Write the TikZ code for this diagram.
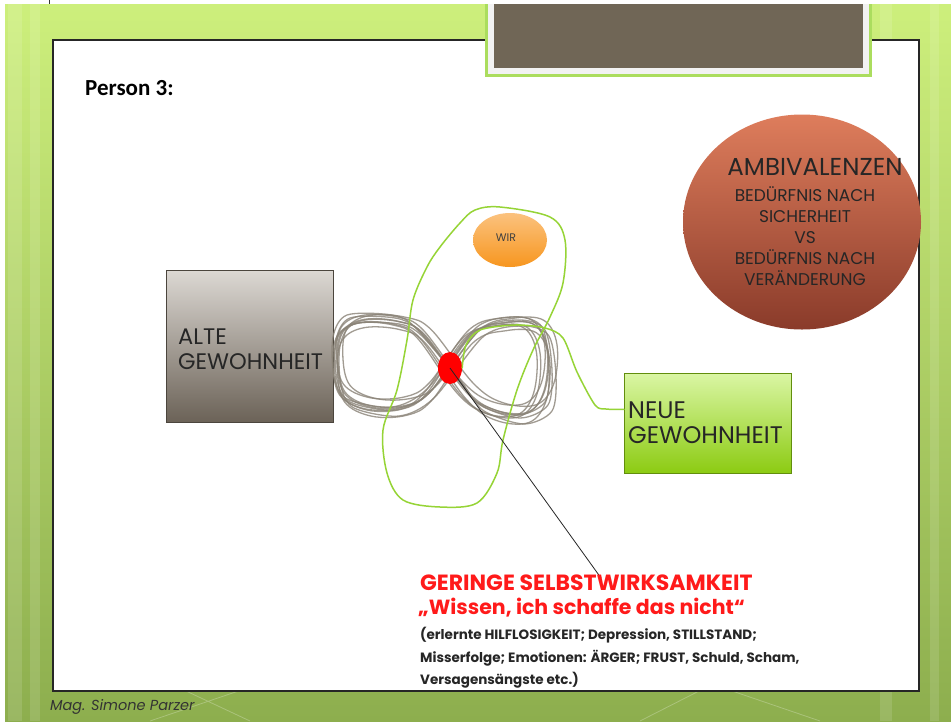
\documentclass[tikz,border=0pt]{standalone}
\usepackage{fontspec}
\setmainfont{Carlito}
\newfontfamily\gothic{Poppins}
\usetikzlibrary{shapes.geometric}
\definecolor{bgtop}{HTML}{CDEF7C}
\definecolor{bgbot}{HTML}{8DAE4E}
\definecolor{brownbox}{HTML}{706656}
\definecolor{ambtop}{HTML}{DE7D5C}
\definecolor{ambbot}{HTML}{8A3B2A}
\definecolor{altetop}{HTML}{DCD8D3}
\definecolor{altebot}{HTML}{6B6257}
\definecolor{neuetop}{HTML}{DAF6A4}
\definecolor{neuebot}{HTML}{8CCB12}
\definecolor{wirtop}{HTML}{FBC27E}
\definecolor{wirbot}{HTML}{F7961F}
\definecolor{scrib}{HTML}{8A8377}
\definecolor{loopgreen}{HTML}{96D436}
\definecolor{redtext}{HTML}{FF1A1A}
\tikzset{
  habitbox/.style={draw=#1!70!black, line width=0.8pt, minimum width=167pt, anchor=north west, inner sep=0pt},
  capslabel/.style={font=\gothic\fontsize{#1}{25}\selectfont, align=left, anchor=west, text=black!85},
  scribble/.style={draw=scrib, line width=1.3pt, opacity=0.8},
  greenline/.style={draw=loopgreen, line width=1.5pt, line join=round, line cap=round},
}
\begin{document}
\begin{tikzpicture}[x=1pt,y=-1pt]
\useasboundingbox (0,0) rectangle (951,721);
% background
\fill[white] (0,0) rectangle (951,721);
\shade[top color=bgtop, bottom color=bgbot] (5,4) rectangle (951,721);
\foreach \x/\w in {8/14, 30/10, 880/12, 930/9} \fill[white, opacity=0.12] (\x,4) rectangle ({\x+\w},721);
\draw[white, opacity=0.25, line width=0.8pt] (150,721) -- (330,660) (250,721) -- (120,660) (640,721) -- (760,660) (820,721) -- (700,680);
\draw[black!80, line width=0.8pt] (49,0) -- (49,4);
% slide panel
\draw[fill=white, draw=black!85, line width=1.6pt] (53,40) rectangle (919,691);
% top title box
\fill[loopgreen!80!white] (485,4) rectangle (872,77);
\fill[black!5] (488,4) rectangle (869,74);
\fill[brownbox] (494,4) rectangle (863,68);
\node[font=\bfseries\fontsize{23}{25}\selectfont, anchor=west, inner sep=0pt] (person) at (85,88) {Person 3:};
% ambivalence circle
\node[ellipse, minimum width=238pt, minimum height=215pt, top color=ambtop, bottom color=ambbot, inner sep=0pt] (amb) at (802,222) {};
\node[font=\gothic\fontsize{24.5}{26}\selectfont, text=black!85, inner sep=0pt] (ambt) at (815,167) {AMBIVALENZEN};
\node[font=\gothic\fontsize{17}{21}\selectfont, align=center, text=black!85, anchor=north, inner sep=0pt] (ambs) at (805,186) {BEDÜRFNIS NACH\\SICHERHEIT\\VS\\BEDÜRFNIS NACH\\VERÄNDERUNG};
% habit boxes
\node[habitbox=altebot, minimum height=152pt, top color=altetop, bottom color=altebot] (alte) at (166,270) {};
\node[capslabel=22.5, inner sep=0pt] (altet) at (178,349) {ALTE\\GEWOHNHEIT};
\node[habitbox=neuebot, minimum height=100pt, top color=neuetop, bottom color=neuebot] (neue) at (624,373) {};
\node[capslabel=24, inner sep=0pt] (neuet) at (628,423) {NEUE\\GEWOHNHEIT};
% WIR
\node[ellipse, minimum width=74pt, minimum height=54pt, top color=wirtop, bottom color=wirbot, inner sep=0pt] (wir) at (510,240) {};
\node[font=\gothic\fontsize{11}{12}\selectfont, text=black!75, inner sep=0pt] (wirt) at (506,238) {WIR};
% scribble figure-eight
\foreach \dx/\dy/\sx/\sy in {0/0/1/1, 3/-4/0.98/1.02, -2/5/1.02/0.97, 5/3/0.97/1, -4/-2/1.01/1.03, 2/8/0.99/0.96, -1/-7/1.0/1.02}
  \draw[scribble, shift={(\dx,\dy)}, xscale=\sx, yscale=\sy] plot[smooth cycle, tension=0.6] coordinates {
    (425,335) (400,322) (365,320) (343,332) (338,360) (345,392) (372,406) (407,405) (432,390)
    (472,335) (505,323) (535,325) (548,350) (545,390) (528,412) (495,410) (466,390)};
\foreach \dx/\dy in {0/0, 4/6, -3/-3}
  \draw[scribble, shift={(\dx,\dy)}] plot[smooth cycle, tension=0.5] coordinates {
    (418,330) (395,318) (350,318) (336,340) (337,380) (350,402) (395,410) (430,392)
    (480,330) (520,320) (545,330) (552,370) (548,405) (520,418) (480,405) (460,380)};
% green freehand loop
\draw[greenline] plot[smooth cycle, tension=0.55] coordinates {
  (475,210) (500,207) (550,217) (565,240) (563,283) (550,317) (533,350) (517,390) (503,440)
  (497,473) (477,503) (440,507) (403,500) (387,473) (383,430) (397,390) (407,340) (413,300)
  (427,267) (440,247) (460,223)};
% red dot
\node[ellipse, fill=red, minimum width=24pt, minimum height=32pt, inner sep=0pt] (dot) at (450,368) {};
% connector to NEUE
\draw[greenline] plot[smooth, tension=0.5] coordinates {
  (dot.east) (466,345) (480,330) (515,325) (545,328) (563,338) (577,372) (595,405) (606,409) ([yshift=14pt]neue.west)};
% pointer line
\coordinate (tip) at (601,578);
\draw[black!85, line width=0.8pt] (dot.center) -- (tip);
% bottom text
\node[font=\gothic\bfseries\fontsize{22}{24}\selectfont, text=redtext, anchor=south west, inner sep=0pt] (ger) at (420,591) {GERINGE SELBSTWIRKSAMKEIT};
\node[font=\gothic\bfseries\fontsize{20.5}{24}\selectfont, text=redtext, anchor=south west, inner sep=0pt] (wiss) at (418,617) {„Wissen, ich schaffe das nicht“};
\node[font=\gothic\bfseries\fontsize{13.5}{22.5}\selectfont, text=black!85, align=left, anchor=north west, inner sep=0pt] (list) at (420,627) {(erlernte HILFLOSIGKEIT; Depression, STILLSTAND;\\Misserfolge; Emotionen: ÄRGER; FRUST, Schuld, Scham,\\Versagensängste etc.)};
% footer
\node[font=\gothic\itshape\fontsize{14.5}{16}\selectfont, text=black!80, anchor=west, inner sep=0pt] (foot) at (50,707) {Mag. Simone Parzer};
\end{tikzpicture}
\end{document}
